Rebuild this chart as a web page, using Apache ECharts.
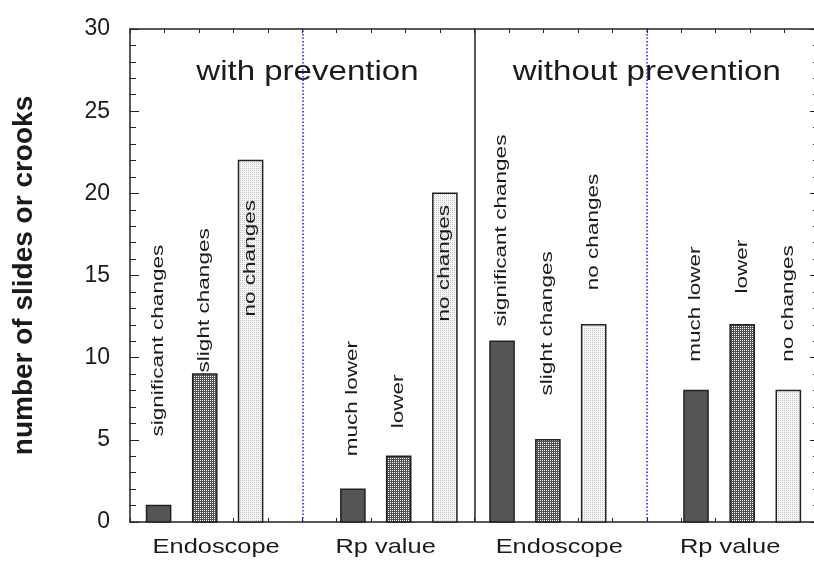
<!DOCTYPE html>
<html>
<head>
<meta charset="utf-8">
<script src="https://cdn.jsdelivr.net/npm/echarts@6/dist/echarts.min.js"></script>
<style>
  html, body { margin: 0; padding: 0; background: #fff; }
  #chart { width: 814px; height: 561px; }
</style>
</head>
<body>
<div id="chart"></div>
<script>
// Panel headings and their horizontal anchors (x-axis units)
const panelTitles = ['with prevention', 'without prevention'];
const panelTitleX = [5.15, 15.0];

// Group names under the axis
const groupNames = ['Endoscope', 'Rp value', 'Endoscope', 'Rp value'];
const groupNameX = [2.5, 7.42, 12.46, 17.42];

// One entry per bar
const barLabels = [
  'significant changes', 'slight changes', 'no changes',
  'much lower', 'lower', 'no changes',
  'significant changes', 'slight changes', 'no changes',
  'much lower', 'lower', 'no changes'
];
const barX = [0.83, 2.17, 3.50, 6.47, 7.80, 9.14, 10.80, 12.13, 13.46, 16.43, 17.77, 19.11];
const barValues = [1, 9, 22, 2, 4, 20, 11, 5, 12, 8, 12, 8];
const barKind = [0, 1, 2, 0, 1, 2, 0, 1, 2, 0, 1, 2];
// Where each rotated bar label starts (y-axis units)
const labelStartY = [5.2, 9.1, 12.5, 4.0, 5.7, 12.2, 11.9, 7.7, 14.1, 9.75, 13.9, 9.75];

const yTicks = [0, 5, 10, 15, 20, 25, 30];

const BAR_W = 0.7;
const TITLE_Y = 27.36;
const GROUP_Y = -1.52;
const FONT = '"Liberation Sans", Arial, Helvetica, sans-serif';
const INK = '#1a1a1a';

// Small repeating tiles for the hatched fills
function makeTile(base, dot) {
  const c = document.createElement('canvas');
  c.width = 2; c.height = 2;
  const g = c.getContext('2d');
  g.fillStyle = base; g.fillRect(0, 0, 2, 2);
  g.fillStyle = dot; g.fillRect(0, 0, 1, 1);
  return c;
}
const fills = [
  '#555555',
  { image: makeTile('#525252', '#ffffff'), repeat: 'repeat' },
  { image: makeTile('#f7f7f7', '#c4c4c4'), repeat: 'repeat' }
];

const chart = echarts.init(document.getElementById('chart'), null, { renderer: 'canvas' });

const axisLineStyle = { color: '#222', width: 1.5 };
const dotted = { color: '#1f1fff', width: 1.5, type: [1.5, 2] };

chart.setOption({
  animation: false,
  backgroundColor: '#fff',
  // the frame runs a few pixels past the right edge of the canvas
  grid: { left: 130, top: 29, width: 689, bottom: 39, containLabel: false, outerBoundsMode: 'none' },
  xAxis: [
    {
      type: 'value', min: 0, max: 20, interval: 1, position: 'bottom',
      axisLine: { show: true, onZero: false, lineStyle: axisLineStyle },
      axisTick: { show: true, inside: true, length: 4, lineStyle: { color: '#222', width: 1 } },
      axisLabel: { show: false }, splitLine: { show: false }
    },
    {
      type: 'value', min: 0, max: 20, interval: 1, position: 'top',
      axisLine: { show: true, onZero: false, lineStyle: axisLineStyle },
      axisTick: { show: true, inside: true, length: 4, lineStyle: { color: '#222', width: 1 } },
      axisLabel: { show: false }, splitLine: { show: false }
    }
  ],
  yAxis: [
    {
      type: 'value', min: yTicks[0], max: yTicks[yTicks.length - 1], interval: yTicks[1] - yTicks[0],
      position: 'left',
      name: 'number of slides or crooks',
      nameLocation: 'middle', nameGap: 92,
      nameTextStyle: { fontFamily: FONT, fontSize: 28, fontWeight: 'bold', color: INK },
      axisLine: { show: true, onZero: false, lineStyle: axisLineStyle },
      axisTick: { show: true, inside: true, length: 9, lineStyle: { color: '#222', width: 1 } },
      minorTick: { show: true, splitNumber: 5, length: 6, lineStyle: { color: '#222', width: 1 } },
      axisLabel: { fontFamily: FONT, fontSize: 23, color: INK, margin: 20, padding: [0, 0, 10, 0] },
      splitLine: { show: false }
    },
    {
      type: 'value', min: yTicks[0], max: yTicks[yTicks.length - 1], interval: yTicks[1] - yTicks[0],
      position: 'right',
      axisLine: { show: true, onZero: false, lineStyle: axisLineStyle },
      axisTick: { show: true, inside: true, length: 9, lineStyle: { color: '#222', width: 1 } },
      minorTick: { show: true, splitNumber: 5, length: 6, lineStyle: { color: '#222', width: 1 } },
      axisLabel: { show: false }, splitLine: { show: false }
    }
  ],
  series: [
    {
      name: 'bars',
      type: 'custom',
      xAxisIndex: 0, yAxisIndex: 0,
      z: 2,
      encode: { x: 0, y: 1 },
      data: barX.map((x, i) => [x, barValues[i], barKind[i]]),
      renderItem: function (params, api) {
        const x = api.value(0), v = api.value(1), k = api.value(2);
        const p0 = api.coord([x - BAR_W / 2, v]);
        const p1 = api.coord([x + BAR_W / 2, 0]);
        return {
          type: 'rect',
          shape: { x: p0[0], y: p0[1], width: p1[0] - p0[0], height: p1[1] - p0[1] },
          style: { fill: fills[k], stroke: '#222', lineWidth: 1.5 }
        };
      },
      markLine: {
        silent: true, animation: false, symbol: ['none', 'none'],
        label: { show: false }, emphasis: { disabled: true },
        data: [
          { xAxis: 10, lineStyle: { color: '#222', width: 1.5, type: 'solid' } },
          { xAxis: 5, lineStyle: dotted },
          { xAxis: 15, lineStyle: dotted }
        ]
      }
    },
    {
      name: 'bar labels',
      type: 'custom',
      z: 3,
      encode: { x: 0, y: 1 },
      data: barX.map((x, i) => [x, labelStartY[i]]),
      renderItem: function (params, api) {
        const p = api.coord([api.value(0), api.value(1)]);
        return {
          type: 'text', x: p[0], y: p[1], rotation: Math.PI / 2, scaleX: 1.41,
          style: {
            text: barLabels[params.dataIndex], fontFamily: FONT, fontSize: 16, fill: INK,
            align: 'left', verticalAlign: 'middle'
          }
        };
      }
    },
    {
      name: 'panel titles',
      type: 'custom',
      z: 4,
      encode: { x: 0, y: 1 },
      data: panelTitleX.map(x => [x, TITLE_Y]),
      renderItem: function (params, api) {
        const p = api.coord([api.value(0), api.value(1)]);
        return {
          type: 'text', x: p[0], y: p[1], scaleX: 1.18,
          style: {
            text: panelTitles[params.dataIndex], fontFamily: FONT, fontSize: 28, fill: INK,
            align: 'center', verticalAlign: 'middle', backgroundColor: '#fff', padding: [5, 6]
          }
        };
      }
    },
    {
      name: 'group names',
      type: 'custom',
      z: 4,
      encode: { x: 0, y: 1 },
      data: groupNameX.map(x => [x, GROUP_Y]),
      renderItem: function (params, api) {
        const p = api.coord([api.value(0), api.value(1)]);
        return {
          type: 'text', x: p[0], y: p[1], scaleX: 1.21,
          style: {
            text: groupNames[params.dataIndex], fontFamily: FONT, fontSize: 21, fill: INK,
            align: 'center', verticalAlign: 'middle'
          }
        };
      }
    }
  ]
});
</script>
</body>
</html>
